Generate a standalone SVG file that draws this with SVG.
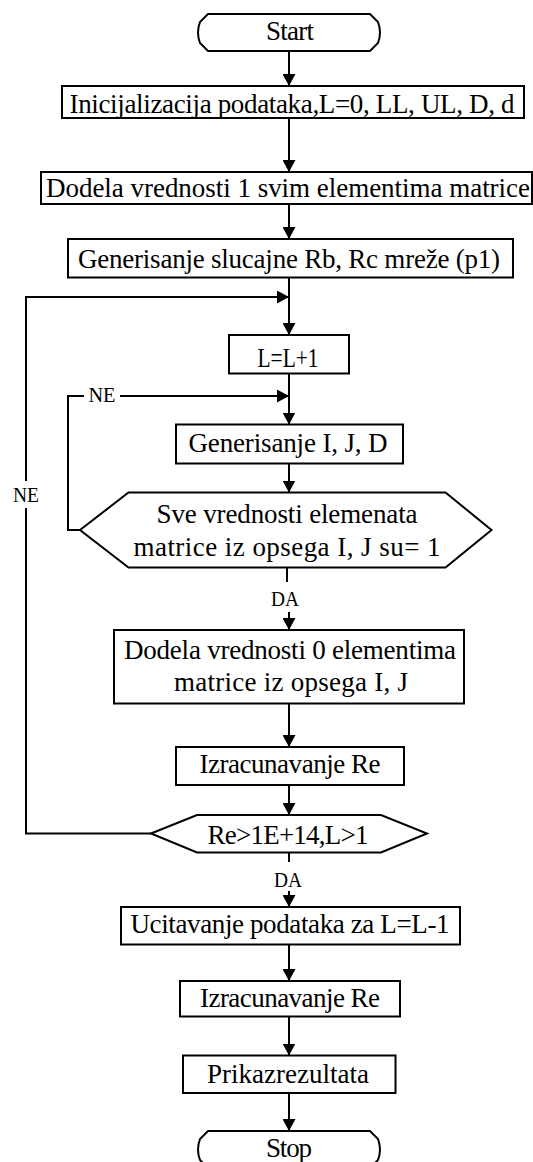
<svg xmlns="http://www.w3.org/2000/svg" width="533" height="1162" viewBox="0 0 533 1162">
<style>
.n{fill:#fff;stroke:#000;stroke-width:2}
.c{fill:none;stroke:#000;stroke-width:2}
.t{font-family:"Liberation Serif","Times New Roman",serif;font-size:27px;fill:#000;text-anchor:middle}
.l{font-family:"Liberation Serif","Times New Roman",serif;font-size:20px;fill:#000;text-anchor:middle}
</style>
<defs>
<marker id="ah" markerUnits="userSpaceOnUse" markerWidth="13" markerHeight="13" refX="12" refY="6.5" orient="auto">
<path d="M0,0 L12,6.5 L0,13 Z" fill="#000"/>
</marker>
</defs>
<rect width="533" height="1162" fill="#fff"/>
<g id="connectors">
<path class="c" marker-end="url(#ah)" d="M289,51 V86"/>
<path class="c" marker-end="url(#ah)" d="M289,118 V172"/>
<path class="c" marker-end="url(#ah)" d="M289,204 V239"/>
<path class="c" marker-end="url(#ah)" d="M289,277.5 V335"/>
<path class="c" marker-end="url(#ah)" d="M289,373.5 V424.5"/>
<path class="c" marker-end="url(#ah)" d="M289,463.5 V492.5"/>
<path class="c" d="M287,567.5 V582"/>
<path class="c" marker-end="url(#ah)" d="M289,612 V630"/>
<path class="c" marker-end="url(#ah)" d="M289,703.5 V747"/>
<path class="c" marker-end="url(#ah)" d="M289,785 V815"/>
<path class="c" d="M289,852.5 V862"/>
<path class="c" marker-end="url(#ah)" d="M289,891 V907"/>
<path class="c" marker-end="url(#ah)" d="M289,944.5 V981"/>
<path class="c" marker-end="url(#ah)" d="M289,1016.5 V1055.5"/>
<path class="c" marker-end="url(#ah)" d="M289,1093 V1131"/>
<path class="c" marker-end="url(#ah)" d="M151,833.5 H26 V508 M26,481 V297 H289"/>
<path class="c" marker-end="url(#ah)" d="M80,530 H68 V396 H84 M120,396 H289"/>
<text class="l" x="102" y="402" textLength="27" lengthAdjust="spacingAndGlyphs">NE</text>
<text class="l" x="26" y="502" textLength="26" lengthAdjust="spacingAndGlyphs">NE</text>
<text class="l" x="285" y="606" textLength="28" lengthAdjust="spacingAndGlyphs">DA</text>
<text class="l" x="288" y="887" textLength="28" lengthAdjust="spacingAndGlyphs">DA</text>
</g>
<g id="start">
<path class="n" d="M208,14 H370 L378,22 Q382,32.5 378,43 L370,51 H208 L200,43 Q196,32.5 200,22 Z"/>
<text class="t" x="290" y="40" textLength="48" lengthAdjust="spacing">Start</text>
</g>
<g id="init">
<rect class="n" x="62" y="86" width="462" height="32"/>
<text class="t" x="292" y="113" textLength="445" lengthAdjust="spacing">Inicijalizacija podataka,L=0, LL, UL, D, d</text>
</g>
<g id="dodela1">
<rect class="n" x="41" y="172" width="491" height="32"/>
<text class="t" x="288" y="197" textLength="484" lengthAdjust="spacing">Dodela vrednosti 1 svim elementima matrice</text>
</g>
<g id="genmreze">
<rect class="n" x="68" y="239" width="445" height="38.5"/>
<text class="t" x="289" y="268" textLength="422" lengthAdjust="spacing">Generisanje slucajne Rb, Rc mreže (p1)</text>
</g>
<g id="inc">
<rect class="n" x="229" y="335" width="120" height="38.5"/>
<text class="t" x="288" y="367" textLength="61" lengthAdjust="spacingAndGlyphs">L=L+1</text>
</g>
<g id="genijd">
<rect class="n" x="176" y="424.5" width="227" height="39"/>
<text class="t" x="288" y="452" textLength="199" lengthAdjust="spacing">Generisanje I, J, D</text>
</g>
<g id="dec1">
<path class="n" d="M80,530 L128.5,492.5 H445.5 L491.5,530 L445.5,567.5 H128.5 Z"/>
<text class="t" x="287" y="523" textLength="261" lengthAdjust="spacing">Sve vrednosti elemenata</text>
<text class="t" x="287" y="556" textLength="307" lengthAdjust="spacing">matrice iz opsega I, J su= 1</text>
</g>
<g id="dodela0">
<rect class="n" x="114" y="630" width="350" height="73.5"/>
<text class="t" x="290" y="659" textLength="332" lengthAdjust="spacing">Dodela vrednosti 0 elementima</text>
<text class="t" x="291" y="691" textLength="234" lengthAdjust="spacing">matrice iz opsega I, J</text>
</g>
<g id="izrac1">
<rect class="n" x="176" y="747" width="228" height="38"/>
<text class="t" x="290" y="773" textLength="181" lengthAdjust="spacing">Izracunavanje Re</text>
</g>
<g id="dec2">
<path class="n" d="M151,833.5 L197,815 H381 L427,833.5 L381,852.5 H197 Z"/>
<text class="t" x="288" y="843.5" textLength="161" lengthAdjust="spacing">Re&gt;1E+14,L&gt;1</text>
</g>
<g id="ucitavanje">
<rect class="n" x="121" y="907" width="339" height="37.5"/>
<text class="t" x="290" y="933" textLength="319" lengthAdjust="spacing">Ucitavanje podataka za L=L-1</text>
</g>
<g id="izrac2">
<rect class="n" x="180" y="981" width="220" height="35.5"/>
<text class="t" x="290" y="1007" textLength="180" lengthAdjust="spacing">Izracunavanje Re</text>
</g>
<g id="prikaz">
<rect class="n" x="183" y="1055.5" width="212.5" height="37.5"/>
<text class="t" x="288" y="1083" textLength="162" lengthAdjust="spacing">Prikazrezultata</text>
</g>
<g id="stop">
<path class="n" d="M208,1131 H370 L378,1139 Q382,1149.5 378,1160 L370,1168 H208 L200,1160 Q196,1149.5 200,1139 Z"/>
<text class="t" x="289" y="1157" textLength="46" lengthAdjust="spacing">Stop</text>
</g>
</svg>
